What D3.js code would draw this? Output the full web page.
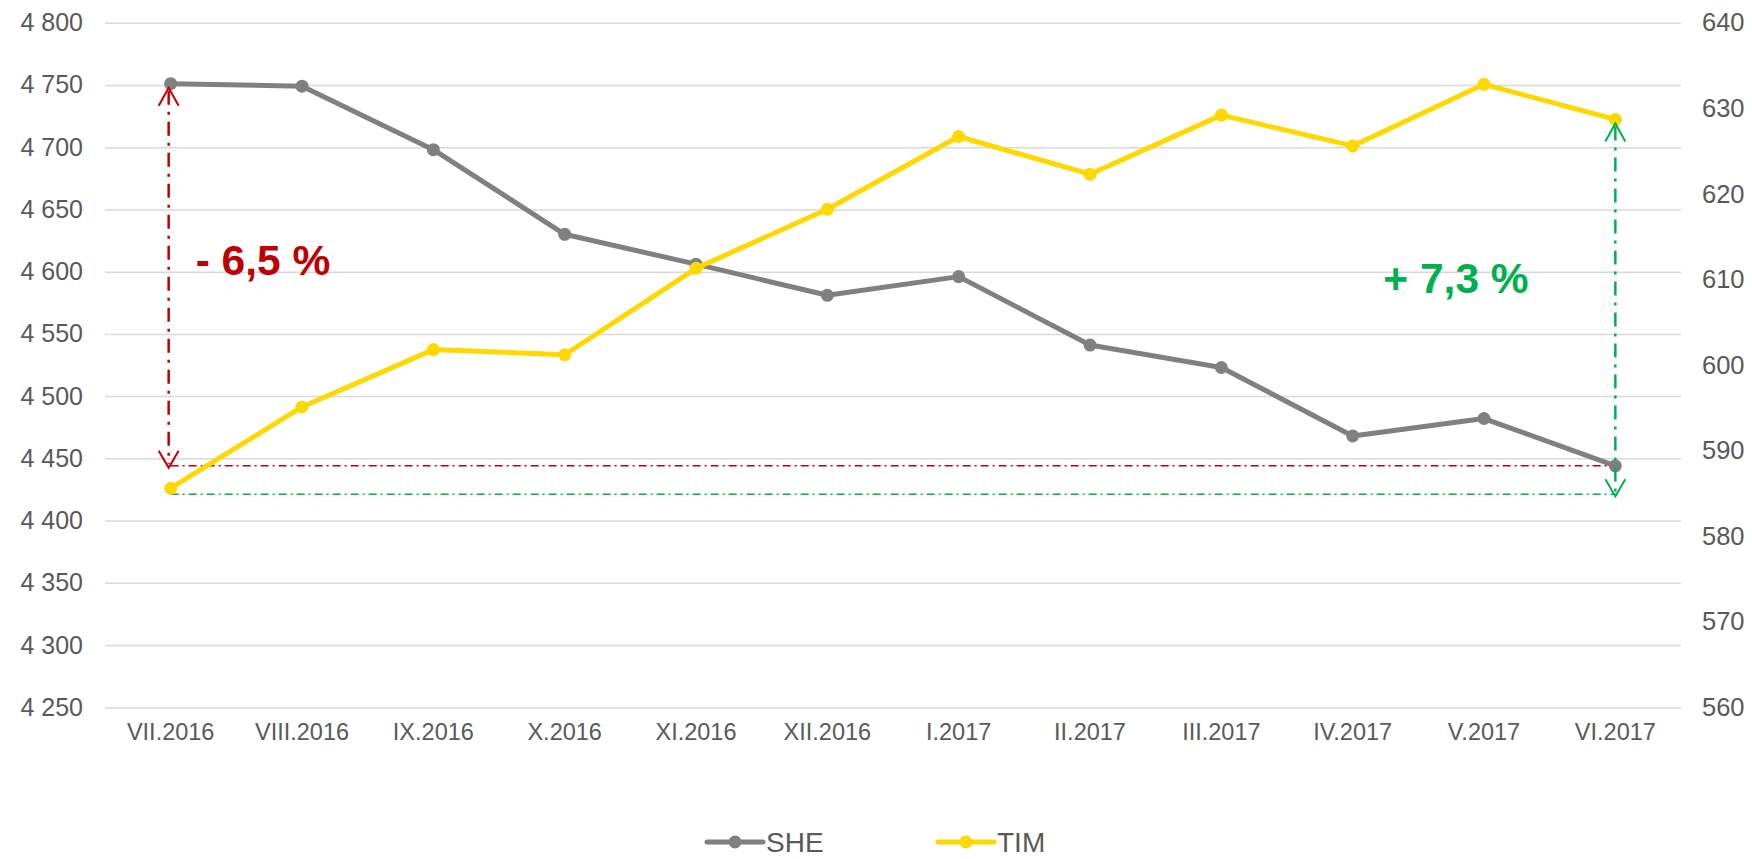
<!DOCTYPE html>
<html>
<head>
<meta charset="utf-8">
<script src="https://cdn.jsdelivr.net/npm/d3@7"></script>
<style>
  body { margin: 0; background: #fff; }
  svg text { font-family: "Liberation Sans", Arial, sans-serif; fill: #595959; }
</style>
</head>
<body>
<script>
// data
const months = ["VII.2016", "VIII.2016", "IX.2016", "X.2016", "XI.2016", "XII.2016",
                "I.2017", "II.2017", "III.2017", "IV.2017", "V.2017", "VI.2017"];
const sheValues = [4751, 4749, 4698, 4630, 4606, 4581, 4596, 4541, 4523, 4468, 4482, 4444];
const timValues = [585.6, 595.1, 601.8, 601.2, 611.3, 618.2, 626.7, 622.3, 629.2, 625.6, 632.8, 628.7];
const leftTicks = [4250, 4300, 4350, 4400, 4450, 4500, 4550, 4600, 4650, 4700, 4750, 4800];
const rightTicks = [560, 570, 580, 590, 600, 610, 620, 630, 640];
const seriesNames = ["SHE", "TIM"];

// annotations: change from first to last month
const sheDrop = [4751, 4444];      // left axis
const timRise = [584.9, 628.7];    // right axis
const dropLabel = "- 6,5 %";
const riseLabel = "+ 7,3 %";

const W = 1752, H = 859;
const plot = { left: 105, right: 1681, top: 22.7, bottom: 707.3 };
const GRAY = "#808080", YELLOW = "#FFD800", RED = "#C00000", GREEN = "#00B050";

const svg = d3.select("body").append("svg")
    .attr("width", W)
    .attr("height", H);

const x = d3.scaleBand().domain(months).range([plot.left, plot.right]);
const cx = d => x(d) + x.bandwidth() / 2;
const yLeft = d3.scaleLinear().domain([4250, 4800]).range([plot.bottom, plot.top]);
const yRight = d3.scaleLinear().domain([560, 640]).range([plot.bottom, plot.top]);

const fmt = d3.formatLocale({ decimal: ",", thousands: " ", grouping: [3], currency: ["", ""] }).format(",d");

// gridlines (follow the left axis)
const grid = svg.append("g")
    .attr("transform", `translate(${plot.left},0)`)
    .call(d3.axisLeft(yLeft).tickValues(leftTicks).tickSize(-(plot.right - plot.left)).tickFormat(""));
grid.select(".domain").remove();
grid.selectAll("line").attr("stroke", "#D9D9D9").attr("stroke-width", 1.5);

// left axis labels
const axL = svg.append("g")
    .attr("transform", `translate(${plot.left},0)`)
    .call(d3.axisLeft(yLeft).tickValues(leftTicks).tickFormat(fmt).tickSize(0).tickPadding(22));
axL.select(".domain").remove();
axL.selectAll("text").style("font-size", "25px").attr("fill", "#595959");

// right axis labels
const axR = svg.append("g")
    .attr("transform", `translate(${plot.right},0)`)
    .call(d3.axisRight(yRight).tickValues(rightTicks).tickSize(0).tickPadding(21));
axR.select(".domain").remove();
axR.selectAll("text").style("font-size", "25.5px").attr("fill", "#595959");

// x axis labels
const axX = svg.append("g")
    .attr("transform", `translate(0,${plot.bottom})`)
    .call(d3.axisBottom(x).tickSize(0).tickPadding(16));
axX.select(".domain").remove();
axX.selectAll("text").style("font-size", "23.5px").attr("fill", "#595959");

// horizontal reference lines
const x0 = cx(months[0]), x1 = cx(months[months.length - 1]);
svg.append("line")
    .attr("x1", x0).attr("x2", x1)
    .attr("y1", yLeft(sheDrop[1])).attr("y2", yLeft(sheDrop[1]))
    .attr("stroke", RED).attr("stroke-width", 1.5)
    .attr("stroke-dasharray", "8,4,2,4");
svg.append("line")
    .attr("x1", x0).attr("x2", x1)
    .attr("y1", yRight(timRise[0])).attr("y2", yRight(timRise[0]))
    .attr("stroke", GREEN).attr("stroke-width", 1.5)
    .attr("stroke-dasharray", "8,4,2,4");

// series lines
const lineL = d3.line().x((d, i) => cx(months[i])).y(d => yLeft(d));
const lineR = d3.line().x((d, i) => cx(months[i])).y(d => yRight(d));

svg.append("path").datum(sheValues)
    .attr("d", lineL).attr("fill", "none")
    .attr("stroke", GRAY).attr("stroke-width", 5).attr("stroke-linejoin", "round");
svg.selectAll(".she-pt").data(sheValues).enter().append("circle")
    .attr("class", "she-pt")
    .attr("cx", (d, i) => cx(months[i])).attr("cy", d => yLeft(d))
    .attr("r", 6.5).attr("fill", GRAY);

svg.append("path").datum(timValues)
    .attr("d", lineR).attr("fill", "none")
    .attr("stroke", YELLOW).attr("stroke-width", 5).attr("stroke-linejoin", "round");
svg.selectAll(".tim-pt").data(timValues).enter().append("circle")
    .attr("class", "tim-pt")
    .attr("cx", (d, i) => cx(months[i])).attr("cy", d => yRight(d))
    .attr("r", 6.5).attr("fill", YELLOW);

// double-headed dash-dot arrows
function arrow(xp, yA, yB, color) {
    const g = svg.append("g").attr("fill", "none").attr("stroke", color);
    const top = Math.min(yA, yB) + 3, bot = Math.max(yA, yB) + 2;
    g.append("line")
        .attr("x1", xp).attr("x2", xp).attr("y1", top + 4).attr("y2", bot - 4)
        .attr("stroke-width", 2.5).attr("stroke-dasharray", "14,7,3,7");
    g.append("path")
        .attr("d", `M${xp - 10},${top + 19}L${xp},${top + 1}L${xp + 10},${top + 19}`)
        .attr("stroke-width", 2);
    g.append("path")
        .attr("d", `M${xp - 10},${bot - 17}L${xp},${bot}L${xp + 10},${bot - 17}`)
        .attr("stroke-width", 2);
}
arrow(x0 - 2, yLeft(sheDrop[0]), yLeft(sheDrop[1]), RED);
arrow(x1, yRight(timRise[1]), yRight(timRise[0]), GREEN);

// change labels
svg.append("text")
    .attr("x", x0 + 25).attr("y", yLeft(4597))
    .style("font-size", "42.5px").style("font-weight", "bold").style("fill", RED)
    .text(dropLabel);
svg.append("text")
    .attr("x", x1 - 232).attr("y", yRight(608.4))
    .style("font-size", "42.5px").style("font-weight", "bold").style("fill", GREEN)
    .text(riseLabel);

// legend
const legendY = 842;
const legendX = [707, 938];
const legend = svg.selectAll(".legend").data(seriesNames).enter().append("g")
    .attr("class", "legend")
    .attr("transform", (d, i) => `translate(${legendX[i]},${legendY})`);
legend.append("line")
    .attr("x1", 0).attr("x2", 56)
    .attr("stroke", (d, i) => i === 0 ? GRAY : YELLOW)
    .attr("stroke-width", 5).attr("stroke-linecap", "round");
legend.append("circle")
    .attr("cx", 28).attr("r", 6.5)
    .attr("fill", (d, i) => i === 0 ? GRAY : YELLOW);
legend.append("text")
    .attr("x", 59).attr("y", 10)
    .style("font-size", "28px")
    .text(d => d);
</script>
</body>
</html>
